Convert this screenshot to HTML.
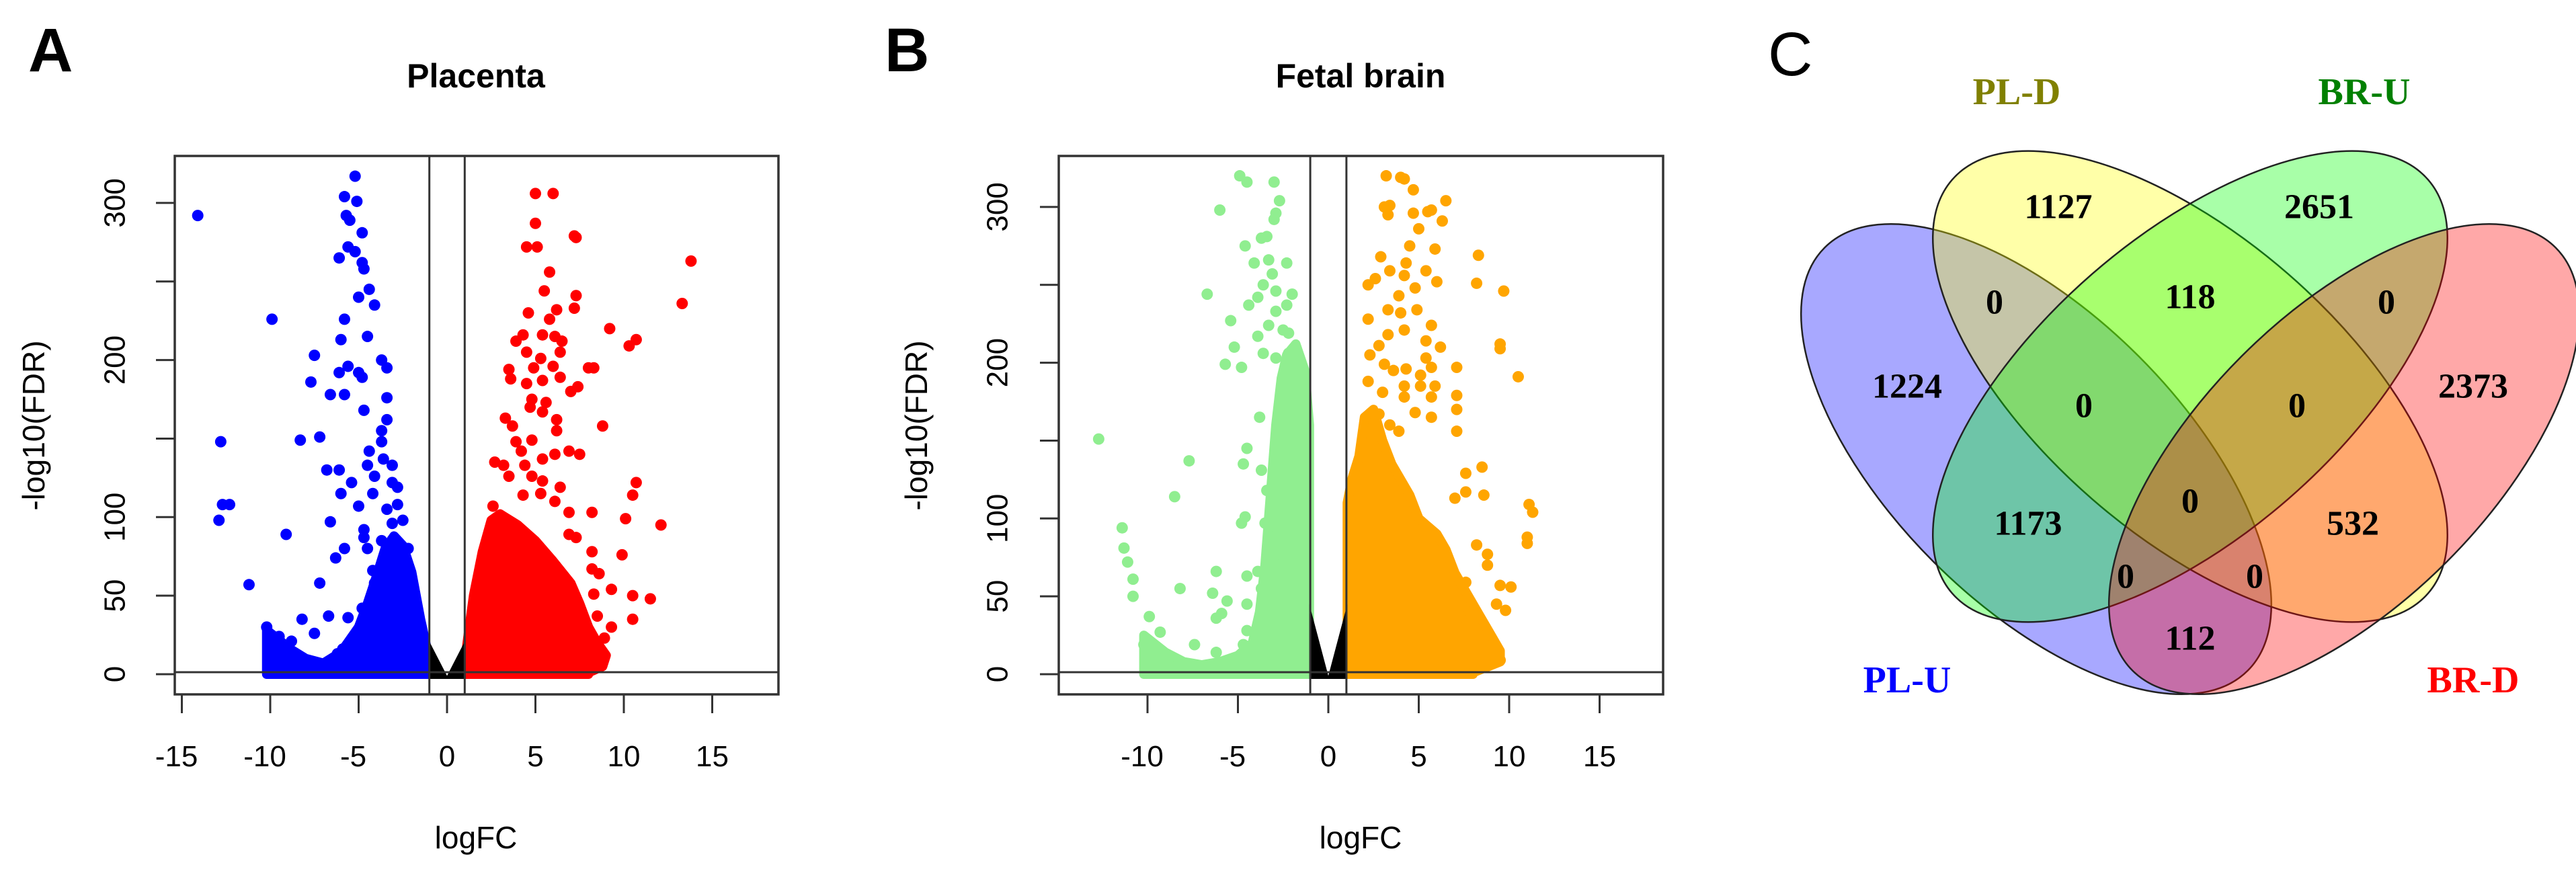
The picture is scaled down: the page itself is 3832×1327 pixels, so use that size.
<!DOCTYPE html>
<html><head><meta charset="utf-8"><style>
html,body{margin:0;padding:0;background:#fff;}
svg{display:block;font-family:"Liberation Sans",Arial,sans-serif;}
.tick{font-size:44px;fill:#000;}
.serif{font-family:"Liberation Serif","Times New Roman",serif;font-weight:bold;}
</style></head><body>
<svg id="fig" width="3832" height="1327" viewBox="0 0 3832 1327" xmlns="http://www.w3.org/2000/svg">
<rect width="3832" height="1327" fill="#fff"/>
<g id="panelA"></g>
<g id="panelB"></g>
<g id="venn"></g>
</svg>
<script>
// ---------- Panel A data (Placenta) ----------
const aDownX=[-14.1,-5.2,-5.8,-5.1,-5.7,-5.5,-4.8,-5.6,-5.2,-6.1,-4.8,-4.7,-4.4,-5.0,-4.1,-9.9,-5.8,-6.0,-4.5,-7.5,-3.7,-3.4,-6.1,-5.0,-5.6,-7.7,-4.8,-6.6,-5.8,-3.4,-4.7,-3.4,-3.7,-3.7,-12.8,-8.3,-7.2,-4.4,-3.6,-3.1,-4.5,-4.1,-3.1,-2.8,-5.4,-6.8,-6.1,-6,-4.2,-5,-3.4,-2.8,-12.3,-12.7,-12.9,-6.6,-4.7,-3.1,-2.5,-9.1,-4.7,-3.7,-3.1,-2.2,-5.8,-6.3,-4.5,-11.2,-7.2,-4.2,-4.1,-3.1,-8.2,-7.5,-6.7,-5.6,-4.8,-3.9,-10.2,-9.5,-8.8,-6.2,-5.9];
const aDownY=[292,317,304,301,292,289,281,272,269,265,262,258,245,240,235,226,226,213,215,203,200,195,192,192,196,186,189,178,178,176,168,162,155,148,148,149,151,142,137,133,133,126,122,119,122,130,130,115,115,107,105,108,108,108,98,97,92,96,98,89,87,85,82,80,80,74,80,57,58,66,58,65,35,26,37,36,42,42,30,24,21,13,16];
const aUpX=[5.0,6.0,5.0,7.2,7.3,4.5,5.1,13.8,5.8,13.3,5.5,7.3,7.2,4.6,6.2,5.8,9.2,4.3,3.9,5.4,6.1,6.5,10.7,10.3,4.5,5.3,6.4,6.0,4.9,3.5,8.0,8.3,3.6,4.5,5.4,6.4,7.4,7.0,4.8,4.7,5.6,5.4,3.3,3.7,6.2,6.2,8.8,4.8,3.9,4.2,6.9,7.5,5.4,2.7,3.2,4.4,6.1,3.5,4.8,5.4,6.4,10.7,10.5,2.6,4.3,5.3,6.1,6.9,8.2,10.1,12.1,6.9,7.3,8.2,9.9,8.2,8.6,8.3,9.3,10.5,11.5,10.5,9.3,8.9,8.5];
const aUpY=[306,306,287,279,278,272,272,263,256,236,244,241,233,230,232,226,220,216,212,216,215,212,213,209,205,201,205,196,195,194,195,195,188,185,187,189,183,180,175,170,173,167,163,158,162,155,158,149,148,142,142,140,137,135,133,133,140,126,126,123,119,122,114,107,114,115,110,103,103,99,95,89,87,78,76,67,64,51,54,50,48,35,30,23,37];
// dense-cloud envelopes (logFC, upper -log10 FDR)
const aDownEnvX=[-10.2,-9.5,-9,-8,-7,-6,-5,-4.5,-4,-3.5,-3,-2.5,-2,-1.5,-1.05];
const aDownEnvY=[28,22,17,10,7,14,30,45,62,80,88,82,65,35,12];
const aUpEnvX=[1.05,1.2,1.5,2,2.5,3,4,5,6,7,7.5,8,8.5,9,8.8,8];
const aUpEnvY=[12,25,50,78,98,102,95,85,72,58,45,30,20,12,5,1];
// ---------- Panel B data (Fetal brain) ----------
const bDownX=[-4.9,-4.5,-3.0,-2.7,-2.9,-3.0,-6.0,-3.7,-3.4,-4.6,-4.1,-3.3,-2.3,-3.1,-3.6,-4.4,-3.9,-2.9,-2.0,-6.7,-2.3,-2.9,-3.3,-2.5,-2.2,-3.9,-5.4,-5.2,-5.7,-4.8,-3.6,-2.9,-2.2,-3.8,-12.7,-7.7,-4.5,-4.7,-3.7,-3.4,-2.9,-8.5,-4.6,-4.8,-3.5,-3.1,-2.9,-11.4,-11.3,-11.1,-10.8,-10.8,-6.2,-8.2,-6.4,-5.6,-4.5,-3.9,-3.7,-3.3,-9.9,-10.2,-7.4,-9.3,-6.2,-5.9,-4.5,-4.5,-6.2,-4.7];
const bDownY=[320,316,316,304,296,292,298,280,281,275,264,266,264,257,250,237,242,246,244,244,237,233,224,221,219,217,227,210,199,197,206,203,206,165,151,137,145,135,131,118,108,114,101,97,97,88,77,94,81,72,61,50,66,55,52,47,63,66,55,64,37,19,19,27,36,39,45,28,14,19];
const bUpX=[3.2,4.0,4.2,4.7,6.5,3.1,3.4,3.3,4.7,5.5,5.7,6.3,5.0,4.5,5.9,8.3,2.9,3.4,4.3,5.4,6.0,4.2,8.2,9.7,2.2,2.6,4.8,3.9,4.9,3.3,4.0,4.2,5.7,2.2,3.3,2.3,2.8,5.4,6.2,7.1,5.4,5.7,9.5,9.5,10.5,3.1,3.6,4.3,5.1,2.2,3.0,4.2,4.2,5.1,5.9,7.1,5.7,7.1,7.1,2.8,3.4,3.9,4.8,5.7,7.6,8.5,8.6,7.6,7.0,11.1,11.3,11.0,11.0,8.2,8.8,8.8,9.5,10.1,9.3,9.8,9.5,7.6,7.3];
const bUpY=[320,319,318,311,304,300,301,295,296,297,298,291,286,275,273,269,268,259,264,259,252,256,251,246,250,254,248,243,234,234,232,221,224,228,218,205,211,214,210,197,203,197,212,209,191,199,195,196,192,188,181,185,178,185,185,179,178,170,156,167,160,156,168,165,129,133,115,117,113,109,104,88,84,83,77,70,57,56,45,41,9,59,37];
const bDownEnvX=[-10.2,-9,-8,-7,-6,-5,-4.2,-3.8,-3.5,-3.3,-3.1,-2.9,-2.6,-2.3,-1.8,-1.3,-1.05];
const bDownEnvY=[25,14,8,6,8,12,20,40,70,100,130,160,190,205,212,195,160];
const bUpEnvX=[1.05,1.3,1.7,2,2.5,3,3.5,4,4.5,5,5.5,6,6.5,7,7.5,8,8.5,9,9.5,9.5,8];
const bUpEnvY=[110,125,140,165,170,150,135,125,115,100,95,90,80,65,55,45,35,25,15,8,1];
// ---------- Venn data ----------
const vennSets=["PL-U","PL-D","BR-U","BR-D"];
const vennCounts=[1224,1127,118,0,0,2651,2373,0,0,0,1173,532,0,0,112];

const NS="http://www.w3.org/2000/svg";
function el(parent,tag,attrs,text){const e=document.createElementNS(NS,tag);for(const k in attrs)e.setAttribute(k,attrs[k]);if(text!==undefined)e.textContent=text;parent.appendChild(e);return e;}

function volcano(g,cfg){
  const sx=v=>cfg.x0+v*cfg.kx, sy=v=>cfg.y0-v*cfg.ky;
  // envelopes
  function env(xs,ys,col,name,side){
    let pts=xs.map((x,i)=>sx(x)+','+sy(ys[i]));
    pts.push(sx(xs[xs.length-1])+','+sy(0));pts.push(sx(xs[0])+','+sy(0));
    const p=el(g,'polygon',{points:pts.join(' '),fill:col,stroke:col,'stroke-width':14,'stroke-linejoin':'round'});
    
    
  }
  env(cfg.dEnvX,cfg.dEnvY,cfg.dCol,'down-regulated-cloud');
  env(cfg.uEnvX,cfg.uEnvY,cfg.uCol,'up-regulated-cloud');
  // black non-significant V
  const v=el(g,'polygon',{points:[sx(-1.05)+','+sy(cfg.vTop),sx(0)+','+sy(-1),sx(1.05)+','+sy(cfg.vTop),sx(1.05)+','+sy(-3),sx(-1.05)+','+sy(-3)].join(' '),fill:'#000'});
  
  
  function pts(xs,ys,col,name){
    xs.forEach((x,i)=>{const c=el(g,'circle',{cx:sx(x),cy:sy(ys[i]),r:8.5,fill:col});
      
      });
  }
  pts(cfg.dX,cfg.dY,cfg.dCol,'down-gene-point');
  pts(cfg.uX,cfg.uY,cfg.uCol,'up-gene-point');
  // threshold lines
  const B=cfg.box;
  [-1,1].forEach(t=>{const l=el(g,'line',{x1:sx(t),x2:sx(t),y1:B[1],y2:B[3],stroke:'#333','stroke-width':3});
    
    });
  const h=el(g,'line',{x1:B[0],x2:B[2],y1:sy(1.3),y2:sy(1.3),stroke:'#333','stroke-width':3});
  
  
  const r=el(g,'rect',{x:B[0],y:B[1],width:B[2]-B[0],height:B[3]-B[1],fill:'none',stroke:'#333','stroke-width':3.5});
  
  
  // y ticks
  [0,50,100,150,200,250,300].forEach(t=>{el(g,'line',{x1:B[0],x2:B[0]-28,y1:sy(t),y2:sy(t),stroke:'#333','stroke-width':3});
    if(t!==150&&t!==250){const tx=el(g,'text',{class:'tick',x:cfg.yLabX,y:sy(t),transform:`rotate(-90 ${cfg.yLabX} ${sy(t)})`,'text-anchor':'middle','dominant-baseline':'central'},String(t));
      
      }});
  // x ticks
  cfg.xt.forEach(t=>{el(g,'line',{x1:sx(t),x2:sx(t),y1:B[3],y2:B[3]+28,stroke:'#333','stroke-width':3});
    const tx=el(g,'text',{class:'tick',x:sx(t)-(t<0?8:0),y:1140,'text-anchor':'middle'},String(t));
    
    });
  const xl=el(g,'text',{x:cfg.cx,y:1262,'font-size':46,'text-anchor':'middle'},'logFC');
  
  
  const yl=el(g,'text',{x:cfg.yTitX,y:633,'font-size':46,'text-anchor':'middle','dominant-baseline':'central',transform:`rotate(-90 ${cfg.yTitX} 633)`},'-log10(FDR)');
  
  
  const ti=el(g,'text',{x:cfg.cx,y:130,'font-size':50,'font-weight':'bold','text-anchor':'middle'},cfg.title);
  
  
  const pl=el(g,'text',{x:cfg.letterX,y:106,'font-size':92,'font-weight':'bold'},cfg.letter);
  
  
}
volcano(document.getElementById('panelA'),{x0:665,kx:26.3,y0:1003,ky:2.337,box:[260,232,1158,1033],
  dX:aDownX,dY:aDownY,uX:aUpX,uY:aUpY,dEnvX:aDownEnvX,dEnvY:aDownEnvY,uEnvX:aUpEnvX,uEnvY:aUpEnvY,
  dCol:'#0000ff',uCol:'#ff0000',vTop:22,xt:[-15,-10,-5,0,5,10,15],yLabX:171,yTitX:50,cx:708,title:'Placenta',letter:'A',letterX:42});
volcano(document.getElementById('panelB'),{x0:1976,kx:26.9,y0:1003,ky:2.317,box:[1575,232,2474,1033],
  dX:bDownX,dY:bDownY,uX:bUpX,uY:bUpY,dEnvX:bDownEnvX,dEnvY:bDownEnvY,uEnvX:bUpEnvX,uEnvY:bUpEnvY,
  dCol:'#90ee90',uCol:'#ffa500',vTop:45,xt:[-10,-5,0,5,10,15],yLabX:1484,yTitX:1363,cx:2024,title:'Fetal brain',letter:'B',letterX:1316});

// ---------- Venn ----------
(function(){
  const g=document.getElementById('venn');
  const ells=[{cx:3029,cy:683,a:445,b:216,r:45,c:'#0000ff',n:'pl-u-ellipse'},
              {cx:3258,cy:575,a:469,b:222,r:41,c:'#ffff00',n:'pl-d-ellipse'},
              {cx:3258,cy:575,a:469,b:222,r:-41,c:'#00ff00',n:'br-u-ellipse'},
              {cx:3487,cy:683,a:445,b:216,r:-45,c:'#ff0000',n:'br-d-ellipse'}];
  ells.forEach(e=>{const q=el(g,'ellipse',{cx:e.cx,cy:e.cy,rx:e.a,ry:e.b,transform:`rotate(${e.r} ${e.cx} ${e.cy})`,fill:e.c,'fill-opacity':0.34,stroke:'#222','stroke-width':2.5});
    
    });
  const pos=[[2837,575],[3062,308],[3258,442],[2967,450],[3100,604],[3450,308],[3679,575],[3550,450],[3417,604],[3258,746],[3017,779],[3500,779],[3162,858],[3354,858],[3258,950]];
  vennCounts.forEach((v,i)=>{const t=el(g,'text',{class:'serif',x:pos[i][0],y:pos[i][1],'font-size':52,'text-anchor':'middle','dominant-baseline':'central'},String(v));
    
    });
  const lp=[[2837,1012,'#0000ff'],[3000,137,'#808000'],[3517,137,'#008000'],[3679,1012,'#ff0000']];
  vennSets.forEach((s,i)=>{const t=el(g,'text',{class:'serif',x:lp[i][0],y:lp[i][1],'font-size':56,fill:lp[i][2],'text-anchor':'middle','dominant-baseline':'central'},s);
    
    });
  const c=el(g,'text',{x:2630,y:112,'font-size':92},'C');
  
  
})();
</script>
</body></html>
